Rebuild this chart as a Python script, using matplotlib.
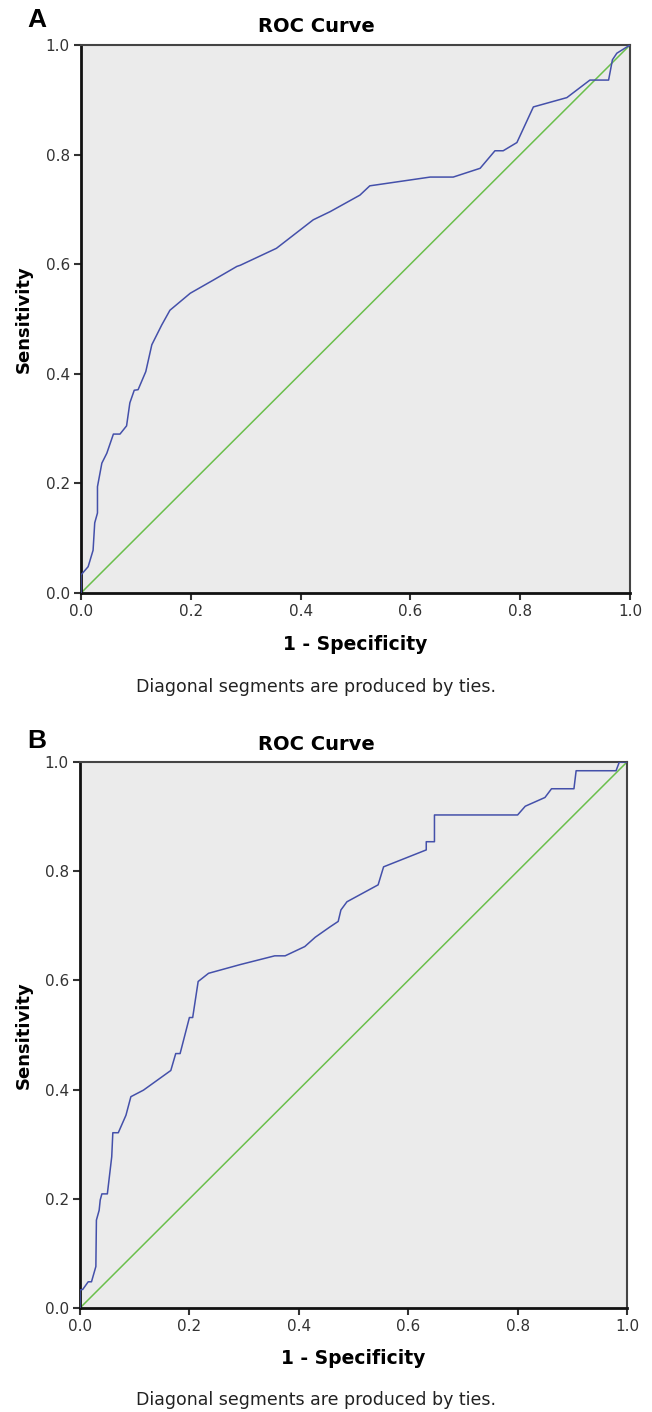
import matplotlib
matplotlib.use("Agg")
import matplotlib.pyplot as plt

# ROC curve A (1 - specificity, sensitivity)
fpr_a = [0.0, 0.0, 0.013, 0.022, 0.025, 0.030, 0.030, 0.038, 0.047, 0.059, 0.071, 0.083,
         0.089, 0.097, 0.104, 0.118, 0.129, 0.147, 0.162, 0.199, 0.241, 0.284, 0.290,
         0.356, 0.423, 0.454, 0.508, 0.526, 0.636, 0.678, 0.727, 0.754, 0.769, 0.794,
         0.824, 0.885, 0.927, 0.961, 0.968, 0.976, 1.0]
tpr_a = [0.0, 0.033, 0.048, 0.078, 0.128, 0.146, 0.194, 0.237, 0.255, 0.290, 0.290, 0.305,
         0.347, 0.370, 0.371, 0.404, 0.453, 0.489, 0.516, 0.547, 0.571, 0.596, 0.598,
         0.629, 0.681, 0.696, 0.726, 0.743, 0.759, 0.759, 0.775, 0.807, 0.807, 0.822,
         0.887, 0.904, 0.936, 0.936, 0.973, 0.985, 1.0]

# ROC curve B
fpr_b = [0.0, 0.0, 0.005, 0.015, 0.021, 0.029, 0.030, 0.035, 0.037, 0.040, 0.050, 0.058,
         0.060, 0.070, 0.084, 0.093, 0.116, 0.166, 0.175, 0.183, 0.200, 0.206, 0.216,
         0.235, 0.293, 0.356, 0.375, 0.411, 0.430, 0.457, 0.472, 0.477, 0.488, 0.545,
         0.555, 0.633, 0.633, 0.648, 0.648, 0.800, 0.814, 0.850, 0.862, 0.903, 0.907,
         0.980, 0.986, 1.0]
tpr_b = [0.0, 0.033, 0.034, 0.048, 0.048, 0.076, 0.161, 0.179, 0.198, 0.209, 0.209, 0.277,
         0.321, 0.321, 0.353, 0.387, 0.399, 0.435, 0.466, 0.466, 0.532, 0.532, 0.598,
         0.613, 0.629, 0.645, 0.645, 0.662, 0.679, 0.698, 0.708, 0.729, 0.744, 0.775,
         0.808, 0.839, 0.854, 0.854, 0.903, 0.903, 0.919, 0.935, 0.951, 0.951, 0.984,
         0.984, 1.0, 1.0]

ref_line = [0.0, 1.0]
ticks = [0.0, 0.2, 0.4, 0.6, 0.8, 1.0]
tick_labels = ["0.0", "0.2", "0.4", "0.6", "0.8", "1.0"]

W, H = 652, 1412
fig = plt.figure(figsize=(W / 100, H / 100), dpi=100)

panels = [
    # letter, fpr, tpr, axes box px (left, top, right, bottom), letter y, title y, xlabel y, note y
    ("A", fpr_a, tpr_a, (81, 45, 630, 593), 20, 27, 644, 687),
    ("B", fpr_b, tpr_b, (80, 762, 627, 1308), 741, 744, 1359, 1400),
]

for letter, fpr, tpr, (l, t, r, b), letter_y, title_y, xlab_y, note_y in panels:
    ax = fig.add_axes([l / W, 1 - b / H, (r - l) / W, (b - t) / H])
    ax.set_facecolor("#ebebeb")
    ax.plot(ref_line, ref_line, color="#6abf4b", lw=1.1, zorder=2)
    ax.plot(fpr, tpr, color="#4450aa", lw=1.1, zorder=3)
    ax.set_xlim(0, 1)
    ax.set_ylim(0, 1)
    ax.set_xticks(ticks)
    ax.set_xticklabels(tick_labels)
    ax.set_yticks(ticks)
    ax.set_yticklabels(tick_labels)
    ax.tick_params(direction="out", length=5, width=1.5, labelsize=11,
                   colors="#333333", pad=3)
    for side in ["left", "bottom"]:
        ax.spines[side].set_linewidth(2)
        ax.spines[side].set_color("#111111")
    for side in ["top", "right"]:
        ax.spines[side].set_linewidth(1.5)
        ax.spines[side].set_color("#444444")

    ax.set_xlabel("1 - Specificity", fontsize=13.5, fontweight="bold", va="center")
    ax.xaxis.set_label_coords(0.5, (b - xlab_y) / (b - t))
    ax.set_ylabel("Sensitivity", fontsize=13, fontweight="bold", va="center", ha="center")
    ax.yaxis.set_label_coords((24 - l) / (r - l), 0.5)

    fig.text(316 / W, 1 - title_y / H, "ROC Curve", ha="center", va="center",
             fontsize=14, fontweight="bold")
    fig.text(37 / W, 1 - letter_y / H, letter, ha="center", va="center",
             fontsize=19, fontweight="bold", family="Liberation Sans")
    fig.text(316 / W, 1 - note_y / H, "Diagonal segments are produced by ties.",
             ha="center", va="center", fontsize=12.5, color="#222222")

fig.savefig("out.png", dpi=100)
